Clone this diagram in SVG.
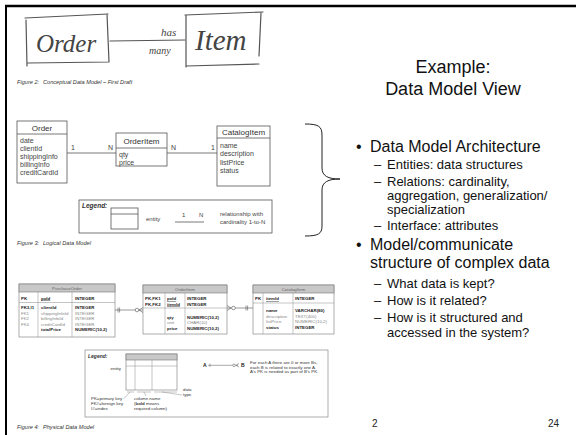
<svg xmlns="http://www.w3.org/2000/svg" width="576" height="435" viewBox="0 0 576 435">
<style>
.sans{font-family:"Liberation Sans",Arial,sans-serif}
.hand{fill:none;stroke:#555;stroke-width:1.2;stroke-linecap:round}
.htext{font-family:"Liberation Serif",serif;font-style:italic;fill:#444}
.box{fill:#fff;stroke:#555;stroke-width:0.8}
.ln{stroke:#555;stroke-width:0.8;fill:none}
.t8{font-size:8px;fill:#333}
.t7{font-size:7px;fill:#444}
.t6{font-size:6px;fill:#444}
.cap{font-size:5.6px;font-style:italic;fill:#333}
.ptab{fill:#fff;stroke:#777;stroke-width:0.6}
.phead{fill:#c8c8c8;stroke:#777;stroke-width:0.6}
.pl{stroke:#888;stroke-width:0.5;fill:none}
.p{font-size:4.4px;fill:#333}
.pg{font-size:4.4px;fill:#888}
.pb{font-size:4.4px;fill:#222;font-weight:bold}
.ph{font-size:4.4px;fill:#666}
.b1{font-size:16px;fill:#111}
.b2{font-size:13px;fill:#111}
</style>
<rect width="576" height="435" fill="#fff"/>
<g id="frame"><line x1="5" y1="6" x2="576" y2="6" stroke="#000" stroke-width="2.6"/><line x1="6" y1="5" x2="6" y2="435" stroke="#000" stroke-width="2"/></g>

<!-- Figure 2 sketch -->
<g id="sketch-order">
<path class="hand" d="M25,18 L108,14 M26,20 L27,66 M28,63 L109,62 M107,14 L109,62"/>
<text class="htext" x="36" y="52" font-size="25">Order</text>
</g>
<g id="sketch-item">
<path class="hand" d="M185,15 L263,12 M186,15 L186,67 M186,66 L259,64 M261,13 L259,56"/>
<text class="htext" x="195" y="50" font-size="29">Item</text>
</g>
<g id="sketch-conn">
<path class="hand" d="M110,41 L185,40"/>
<text class="htext" x="161" y="36" font-size="11">has</text>
<text class="htext" x="149" y="54" font-size="10">many</text>
</g>
<text class="sans cap" x="17" y="84">Figure 2:<tspan x="43">Conceptual Data Model – First Draft</tspan></text>

<!-- Title -->
<g id="title" class="sans" text-anchor="middle" font-size="18" fill="#111">
<text x="453" y="73">Example:</text>
<text x="453" y="95">Data Model View</text>
</g>

<!-- Figure 3 logical -->
<g id="l-order" class="sans">
<rect class="box" x="17" y="121" width="50" height="62"/>
<line class="ln" x1="17" y1="134" x2="67" y2="134"/>
<text class="t8" x="42" y="131" text-anchor="middle">Order</text>
<text class="t7" x="20" y="143">date</text>
<text class="t7" x="20" y="151">clientId</text>
<text class="t7" x="20" y="159">shippingInfo</text>
<text class="t7" x="20" y="167">billingInfo</text>
<text class="t7" x="20" y="175">creditCardId</text>
</g>
<g id="l-orderitem" class="sans">
<rect class="box" x="116" y="133" width="51" height="33"/>
<line class="ln" x1="116" y1="148" x2="167" y2="148"/>
<text class="t8" x="141.5" y="144" text-anchor="middle">OrderItem</text>
<text class="t7" x="119" y="157">qty</text>
<text class="t7" x="119" y="165">price</text>
</g>
<g id="l-catalogitem" class="sans">
<rect class="box" x="217" y="126" width="53" height="60"/>
<line class="ln" x1="217" y1="138" x2="270" y2="138"/>
<text class="t8" x="243.5" y="135" text-anchor="middle">CatalogItem</text>
<text class="t7" x="220" y="148">name</text>
<text class="t7" x="220" y="156">description</text>
<text class="t7" x="220" y="164.5">listPrice</text>
<text class="t7" x="220" y="173">status</text>
</g>
<g id="l-connectors" class="sans">
<line class="ln" x1="67" y1="153" x2="116" y2="153"/>
<line class="ln" x1="167" y1="153" x2="217" y2="153"/>
<text class="t7" x="71" y="150">1</text>
<text class="t7" x="108" y="150">N</text>
<text class="t7" x="171" y="150">N</text>
<text class="t7" x="211" y="150">1</text>
</g>
<g id="l-legend" class="sans">
<rect class="box" x="79" y="200" width="193" height="33"/>
<text x="82" y="207.5" font-size="6.5" font-weight="bold" font-style="italic" fill="#333">Legend:</text>
<rect class="box" x="111" y="208" width="27" height="21"/>
<line class="ln" x1="111" y1="214" x2="138" y2="214"/>
<text class="t6" x="146" y="221">entity</text>
<line class="ln" x1="175" y1="222" x2="204" y2="222"/>
<text class="t6" x="182" y="217">1</text>
<text class="t6" x="199" y="217">N</text>
<text class="t6" x="220" y="216">relationship with</text>
<text class="t6" x="220" y="224">cardinality 1-to-N</text>
</g>
<text class="sans cap" x="17" y="245">Figure 3:<tspan x="43">Logical Data Model</tspan></text>

<g id="brace"><path d="M305,124 C318,124 322,126 322,135 L322,168 C322,176 328,179 340,179 C328,179 322,182 322,190 L322,226 C322,234 318,236 305,236" fill="none" stroke="#222" stroke-width="1"/></g>

<!-- Bullets -->
<g id="bullets" class="sans">
<text class="b1" x="356" y="152">•</text>
<text class="b1" x="370" y="152">Data Model Architecture</text>
<text class="b2" x="374" y="169">–<tspan x="387">Entities: data structures</tspan></text>
<text class="b2" x="374" y="186">–<tspan x="387">Relations: cardinality,</tspan></text>
<text class="b2" x="387" y="200">aggregation, generalization/</text>
<text class="b2" x="387" y="214">specialization</text>
<text class="b2" x="374" y="230">–<tspan x="387">Interface: attributes</tspan></text>
<text class="b1" x="356" y="250">•</text>
<text class="b1" x="370" y="250">Model/communicate</text>
<text class="b1" x="370" y="268">structure of complex data</text>
<text class="b2" x="374" y="288">–<tspan x="387">What data is kept?</tspan></text>
<text class="b2" x="374" y="305">–<tspan x="387">How is it related?</tspan></text>
<text class="b2" x="374" y="322">–<tspan x="387">How is it structured and</tspan></text>
<text class="b2" x="387" y="337">accessed in the system?</text>
</g>

<!-- Figure 4 physical -->
<g id="p-purchaseorder" class="sans">
<rect class="ptab" x="19" y="284" width="96" height="53"/>
<rect class="phead" x="19" y="284" width="96" height="8"/>
<text class="ph" x="67" y="289.8" text-anchor="middle">PurchaseOrder</text>
<line class="pl" x1="38" y1="292" x2="38" y2="337"/>
<line class="pl" x1="72" y1="292" x2="72" y2="337"/>
<line class="pl" x1="19" y1="302.5" x2="115" y2="302.5"/>
<text class="pb" x="21" y="299.5">PK</text>
<text class="pb" x="41" y="299.5" text-decoration="underline">poId</text>
<text class="pb" x="75" y="299.5">INTEGER</text>
<text class="pb" x="21" y="309">FK3,I1</text><text class="pb" x="41" y="309">clientId</text><text class="pb" x="75" y="309">INTEGER</text>
<text class="pg" x="21" y="314.5">FK1</text><text class="pg" x="41" y="314.5">shippingInfoId</text><text class="pg" x="75" y="314.5">INTEGER</text>
<text class="pg" x="21" y="320">FK2</text><text class="pg" x="41" y="320">billingInfoId</text><text class="pg" x="75" y="320">INTEGER</text>
<text class="pg" x="21" y="325.5">FK4</text><text class="pg" x="41" y="325.5">creditCardId</text><text class="pg" x="75" y="325.5">INTEGER</text>
<text class="pb" x="41" y="331">totalPrice</text><text class="pb" x="75" y="331">NUMERIC(10,2)</text>
</g>
<g id="p-orderitem" class="sans">
<rect class="ptab" x="143" y="285" width="84" height="49"/>
<rect class="phead" x="143" y="285" width="84" height="8"/>
<text class="ph" x="185" y="290.8" text-anchor="middle">OrderItem</text>
<line class="pl" x1="165" y1="293" x2="165" y2="334"/>
<line class="pl" x1="185" y1="293" x2="185" y2="334"/>
<line class="pl" x1="143" y1="308" x2="227" y2="308"/>
<text class="pb" x="145" y="300">PK,FK1</text><text class="pb" x="167" y="300" text-decoration="underline">poId</text><text class="pb" x="187" y="300">INTEGER</text>
<text class="pb" x="145" y="305.5">PK,FK2</text><text class="pb" x="167" y="305.5" text-decoration="underline">itemId</text><text class="pb" x="187" y="305.5">INTEGER</text>
<text class="pb" x="167" y="318.5">qty</text><text class="pb" x="187" y="318.5">NUMERIC(10,2)</text>
<text class="pg" x="167" y="324">unit</text><text class="pg" x="187" y="324">CHAR(10)</text>
<text class="pb" x="167" y="329.5">price</text><text class="pb" x="187" y="329.5">NUMERIC(10,2)</text>
</g>
<g id="p-catalogitem" class="sans">
<rect class="ptab" x="253" y="285" width="81" height="49"/>
<rect class="phead" x="253" y="285" width="81" height="8"/>
<text class="ph" x="293.5" y="290.8" text-anchor="middle">CatalogItem</text>
<line class="pl" x1="263" y1="293" x2="263" y2="334"/>
<line class="pl" x1="293" y1="293" x2="293" y2="334"/>
<line class="pl" x1="253" y1="303" x2="334" y2="303"/>
<text class="pb" x="255" y="300">PK</text><text class="pb" x="266" y="300" text-decoration="underline">itemId</text><text class="pb" x="295" y="300">INTEGER</text>
<text class="pb" x="266" y="312">name</text><text class="pb" x="295" y="312">VARCHAR(80)</text>
<text class="pg" x="266" y="317.5">description</text><text class="pg" x="295" y="317.5">TEXT(400)</text>
<text class="pg" x="266" y="323">listPrice</text><text class="pg" x="295" y="323">NUMERIC(10,2)</text>
<text class="pb" x="266" y="328.5">status</text><text class="pb" x="295" y="328.5">INTEGER</text>
</g>
<g id="p-connectors" fill="none" stroke="#555" stroke-width="0.6">
<line x1="115" y1="310" x2="143" y2="310"/>
<path d="M118,307.5 V312.5 M119.6,307.5 V312.5"/>
<circle cx="137" cy="310" r="1.8" fill="#fff"/>
<path d="M139,310 L143,307.5 M139,310 L143,312.5"/>
<line x1="227" y1="308" x2="253" y2="308"/>
<path d="M231,308 L227,305.5 M231,308 L227,310.5"/>
<circle cx="233.5" cy="308" r="1.8" fill="#fff"/>
<path d="M246,305.5 V310.5 M247.6,305.5 V310.5"/>
</g>
<g id="p-legend" class="sans">
<rect class="ptab" x="85" y="350" width="243" height="67"/>
<text x="88" y="357.5" font-size="5" font-weight="bold" font-style="italic" fill="#333">Legend:</text>
<rect class="ptab" x="126" y="354" width="51" height="36"/>
<rect class="phead" x="126" y="354" width="51" height="6"/>
<line class="pl" x1="126" y1="366" x2="177" y2="366"/>
<line class="pl" x1="135" y1="360" x2="135" y2="390"/>
<line class="pl" x1="152" y1="360" x2="152" y2="390"/>
<text class="p" x="121" y="370" text-anchor="end">entity</text>
<path class="pl" d="M127,392 H134 M137,392 H151 M154,392 H177 M130,392 L124,398.5 M144,392 L146,396 M162,392 L182,395"/>
<text class="p" x="91" y="400">PK=primary key</text>
<text class="p" x="91" y="405">FK#=foreign key</text>
<text class="p" x="91" y="410">I#=index</text>
<text class="p" x="134" y="400">column name</text>
<text class="p" x="134" y="405">(<tspan font-weight="bold">bold</tspan> means</text>
<text class="p" x="134" y="410">required column)</text>
<text class="p" x="183" y="391">data</text>
<text class="p" x="183" y="396">type</text>
<text x="203" y="367" font-size="5" font-weight="bold" fill="#222">A</text>
<line x1="208" y1="365.3" x2="238" y2="365.3" stroke="#555" stroke-width="0.5"/>
<path d="M210,363.5 V367" stroke="#555" stroke-width="0.5"/>
<circle cx="234" cy="365.3" r="1.3" fill="#fff" stroke="#555" stroke-width="0.5"/>
<path d="M236,365.3 L239,363.5 M236,365.3 L239,367" stroke="#555" stroke-width="0.5" fill="none"/>
<text x="241" y="367" font-size="5" font-weight="bold" fill="#222">B</text>
<text class="p" x="250" y="364" font-size="4.1">For each A there are 0 or more Bs,</text>
<text class="p" x="250" y="368.5" font-size="4.1">each B is related to exactly one A.</text>
<text class="p" x="250" y="373" font-size="4.1">A's PK is needed as part of B's PK.</text>
</g>
<text class="sans cap" x="17" y="429">Figure 4:<tspan x="43">Physical Data Model</tspan></text>

<g id="pagenums" class="sans" font-size="10" fill="#222">
<text x="372" y="427">2</text>
<text x="548" y="427">24</text>
</g>
</svg>
